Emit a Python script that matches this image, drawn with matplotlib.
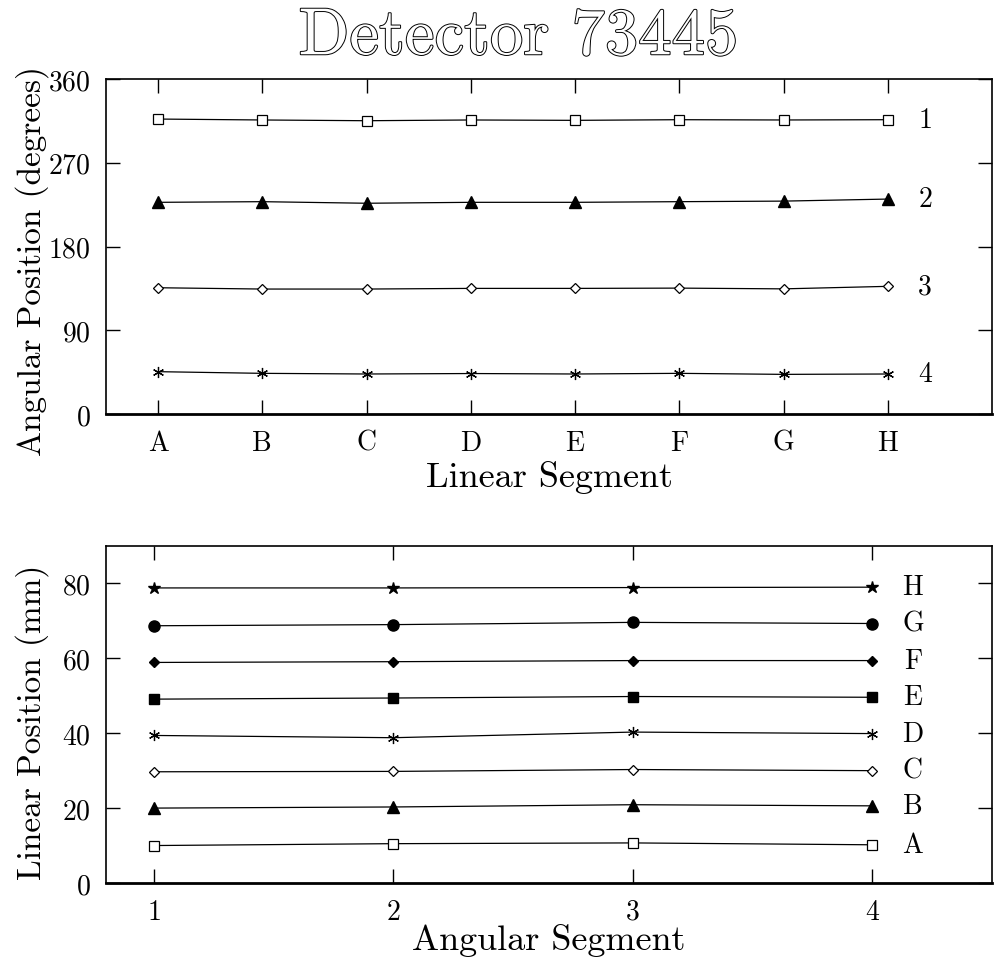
import matplotlib
matplotlib.use('Agg')
import matplotlib.pyplot as plt
import matplotlib.patheffects as pe

plt.rcParams['font.family'] = ['cmr10', 'DejaVu Serif']
plt.rcParams['axes.formatter.use_mathtext'] = True
plt.rcParams['mathtext.fontset'] = 'cm'

# top panel: angular position of each ring across the linear segments
segments = ["A", "B", "C", "D", "E", "F", "G", "H"]
ring_names = ["1", "2", "3", "4"]
ring1 = [317.0, 316.0, 315.2, 316.0, 315.6, 316.3, 316.0, 316.3]
ring2 = [227.5, 228.2, 226.5, 227.5, 227.5, 228.2, 228.8, 231.0]
ring3 = [135.7, 134.3, 134.3, 135.0, 135.0, 135.3, 134.5, 137.2]
ring4 = [45.5, 43.7, 43.0, 43.5, 43.0, 43.7, 42.6, 43.0]

# bottom panel: linear position of each segment across the angular segments
angular = [1, 2, 3, 4]
seg_A = [10.0, 10.5, 10.7, 10.2]
seg_B = [20.0, 20.3, 20.9, 20.6]
seg_C = [29.7, 29.8, 30.3, 30.0]
seg_D = [39.4, 38.8, 40.3, 39.9]
seg_E = [49.1, 49.4, 49.8, 49.6]
seg_F = [58.9, 59.1, 59.4, 59.4]
seg_G = [68.7, 69.0, 69.6, 69.3]
seg_H = [78.8, 78.8, 78.9, 79.0]

asterisk = (6, 2, 0)

fig = plt.figure(figsize=(9.97, 9.62), dpi=100)
ax1 = fig.add_axes([0.1063, 0.5686, 0.8887, 0.3482])
ax2 = fig.add_axes([0.1063, 0.0811, 0.8887, 0.3503])

def style_axes(ax):
    ax.tick_params(direction='in', length=10, width=1.0, top=True, right=True,
                   labelsize=20, pad=11, colors='black')
    for s in ax.spines.values():
        s.set_linewidth(1.2)
    ax.spines['bottom'].set_linewidth(2.0)

# ---- top panel
xs = list(range(len(segments)))
top_series = [
    (ring1, dict(marker='s', ms=7, mfc='white', mec='black', mew=0.9)),
    (ring2, dict(marker='^', ms=8, mfc='black', mec='black')),
    (ring3, dict(marker='D', ms=5, mfc='white', mec='black', mew=0.9)),
    (ring4, dict(marker=asterisk, ms=8, mec='black', mew=0.9)),
]
for (vals, mk), name in zip(top_series, ring_names):
    ax1.plot(xs, vals, color='black', lw=0.9, **mk)
    ax1.text(xs[-1] + 0.36, vals[-1], name, fontsize=20, ha='center', va='center')

ax1.set_xlim(-0.5, 8.0)
ax1.set_ylim(0, 360)
ax1.set_xticks(xs)
ax1.set_xticklabels(segments)
ax1.set_yticks([0, 90, 180, 270, 360])
ax1.set_xlabel("Linear Segment", fontsize=26, labelpad=3)
ax1.set_ylabel("Angular Position (degrees)", fontsize=24)
ax1.yaxis.set_label_coords(-0.064, 0.46)
style_axes(ax1)

# ---- bottom panel
bottom_series = [
    ("A", seg_A, dict(marker='s', ms=7, mfc='white', mec='black', mew=0.9)),
    ("B", seg_B, dict(marker='^', ms=8, mfc='black', mec='black')),
    ("C", seg_C, dict(marker='D', ms=5, mfc='white', mec='black', mew=0.9)),
    ("D", seg_D, dict(marker=asterisk, ms=8, mec='black', mew=0.9)),
    ("E", seg_E, dict(marker='s', ms=7.5, mfc='black', mec='black')),
    ("F", seg_F, dict(marker='D', ms=5.5, mfc='black', mec='black')),
    ("G", seg_G, dict(marker='o', ms=8, mfc='black', mec='black')),
    ("H", seg_H, dict(marker='*', ms=9, mfc='black', mec='black')),
]
for name, vals, mk in bottom_series:
    ax2.plot(angular, vals, color='black', lw=0.9, **mk)
    ax2.text(angular[-1] + 0.17, vals[-1], name, fontsize=20, ha='center', va='center')

ax2.set_xlim(0.8, 4.5)
ax2.set_ylim(0, 90)
ax2.set_xticks(angular)
ax2.set_yticks([0, 20, 40, 60, 80])
ax2.set_xlabel("Angular Segment", fontsize=26, labelpad=-1)
ax2.set_ylabel("Linear Position (mm)", fontsize=24)
ax2.yaxis.set_label_coords(-0.064, 0.48)
style_axes(ax2)

fig.text(0.52, 0.96, "Detector 73445", fontsize=48, ha='center', va='center',
         color='white',
         path_effects=[pe.Stroke(linewidth=1.4, foreground='black'), pe.Normal()])

plt.savefig("out.png", dpi=100)
plt.close()
